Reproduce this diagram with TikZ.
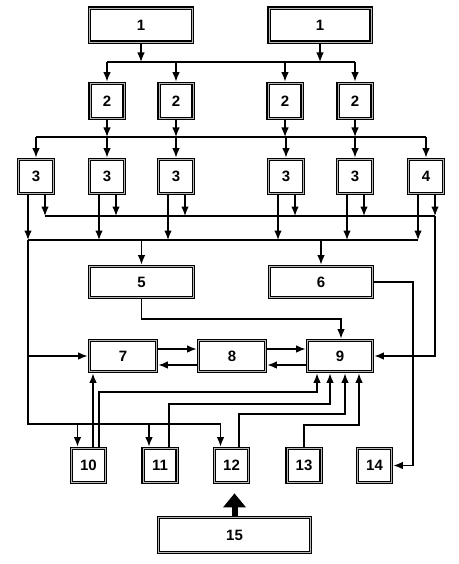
\documentclass[tikz,border=0pt]{standalone}
\usepackage{fontspec}
\setmainfont{Liberation Sans}
\usetikzlibrary{arrows.meta}
\tikzset{
  box/.style={draw, line width=1.5pt, double=gray!55, double distance=0.7pt,
    fill=white, inner sep=0pt, outer sep=1.85pt,
    font=\fontsize{15}{15}\selectfont\bfseries},
  conn/.style={line width=1.3pt},
  arr/.style={conn, -{Latex[length=9.5pt,width=7.5pt]}},
  bigarr/.style={line width=6pt, -{Triangle[length=14pt,width=22pt]}}
}
\begin{document}
\begin{tikzpicture}[x=1pt,y=-1pt]
\useasboundingbox (0,0) rectangle (458,564);
% row 1
\node[box, minimum width=103, minimum height=34] (a1) at (141,25) {1};
\node[box, minimum width=102, minimum height=34] (b1) at (320,25) {1};
% row 2
\foreach \n/\x in {c1/107,c2/176,c3/285,c4/355}
  \node[box, minimum width=34, minimum height=35] (\n) at (\x,101) {2};
% row 3
\foreach \n/\x in {d1/36,d2/107,d3/176,d4/286,d5/355}
  \node[box, minimum width=35, minimum height=34] (\n) at (\x,176.5) {3};
\node[box, minimum width=35, minimum height=34] (e4) at (426,176.5) {4};
% row 4
\node[box, minimum width=104, minimum height=31] (f5) at (141.5,282) {5};
\node[box, minimum width=103, minimum height=31] (f6) at (321,282) {6};
% row 5
\node[box, minimum width=67, minimum height=31] (g7) at (123,356) {7};
\node[box, minimum width=67, minimum height=31] (g8) at (232,356) {8};
\node[box, minimum width=65, minimum height=31] (g9) at (340,356) {9};
% row 6
\foreach \n/\x/\t in {h10/88.5/10,h11/160/11,h12/231.5/12,h13/304/13,h14/374.5/14}
  \node[box, minimum width=34, minimum height=34] (\n) at (\x,465.5) {\t};
\node[box, minimum width=152, minimum height=35] (h15) at (234.5,535) {15};

% 1 -> bus -> 2
\draw[arr] (a1.south) -- (a1.south |- 0,62);
\draw[arr] (b1.south) -- (b1.south |- 0,62);
\draw[conn] (c1.north |- 0,62) -- (c4.north |- 0,62);
\foreach \n in {c1,c2,c3,c4} \draw[arr] (\n.north |- 0,62) -- (\n.north);
% 2 -> bus -> 3,4
\foreach \n in {c1,c2,c3,c4} \draw[arr] (\n.south) -- (\n.south |- 0,137);
\draw[conn] (d1.north |- 0,137) -- (e4.north |- 0,137);
\foreach \n in {d1,d2,d3,d4,d5,e4} \draw[arr] (\n.north |- 0,137) -- (\n.north);
% outputs of 3,4
\foreach \n in {d1,d2,d3,d4,d5,e4} {
  \draw[arr] ([xshift=-8pt]\n.south) -- ([xshift=-8pt]\n.south |- 0,240);
  \draw[arr] ([xshift=9pt]\n.south) -- ([xshift=9pt]\n.south |- 0,216);
}
\coordinate (L) at ([xshift=-8pt]d1.south);
\coordinate (R) at ([xshift=9pt]e4.south);
% upper bus -> 9
\draw[conn] ([xshift=9pt]d1.south |- 0,216) -- (R |- 0,216);
\draw[arr] (R |- 0,216) |- (g9.east);
% lower bus -> 5, 6 and left line
\draw[conn] (L |- 0,240) -- ([xshift=-8pt]e4.south |- 0,240);
\draw[arr] (f5.north |- 0,240) -- (f5.north);
\draw[arr] (f6.north |- 0,240) -- (f6.north);
\draw[conn] (L |- 0,240) -- (L |- 0,424) -- ([xshift=-11pt]h12.north |- 0,424);
\draw[arr] (L |- g7.west) -- (g7.west);
\foreach \n in {h10,h11,h12} \draw[arr] ([xshift=-11pt]\n.north |- 0,424) -- ([xshift=-11pt]\n.north);
% 5 -> 9, 6 -> 14
\draw[arr] (f5.south) -- (f5.south |- 0,319) -| ([xshift=1pt]g9.north);
\draw[arr] (f6.east) -- (f6.east -| 413,0) |- (h14.east);
% 7 <-> 8 <-> 9
\draw[arr] ([yshift=7pt]g7.east) -- ([yshift=7pt]g8.west);
\draw[arr] ([yshift=-9pt]g8.west) -- ([yshift=-9pt]g7.east);
\draw[arr] ([yshift=7pt]g8.east) -- ([yshift=7pt]g9.west);
\draw[arr] ([yshift=-9pt]g9.west) -- ([yshift=-9pt]g8.east);
% 10..13 -> 7, 9
\coordinate (i1) at ([xshift=-23pt]g9.south);
\coordinate (i2) at ([xshift=-10pt]g9.south);
\coordinate (i3) at ([xshift=5pt]g9.south);
\coordinate (i4) at ([xshift=19pt]g9.south);
\draw[arr] ([xshift=4.5pt]h10.north) -- ([xshift=4.5pt]h10.north |- g7.south);
\draw[arr] ([xshift=10.5pt]h10.north) |- (i1 |- 0,392) -- (i1);
\draw[arr] ([xshift=9pt]h11.north) |- (i2 |- 0,404) -- (i2);
\draw[arr] ([xshift=7.5pt]h12.north) |- (i3 |- 0,414) -- (i3);
\draw[arr] (h13.north) |- (i4 |- 0,425) -- (i4);
% 15 -> 12
\draw[bigarr, shorten >=9pt] (h15.north) -- (h15.north |- h12.south);
\end{tikzpicture}
\end{document}
